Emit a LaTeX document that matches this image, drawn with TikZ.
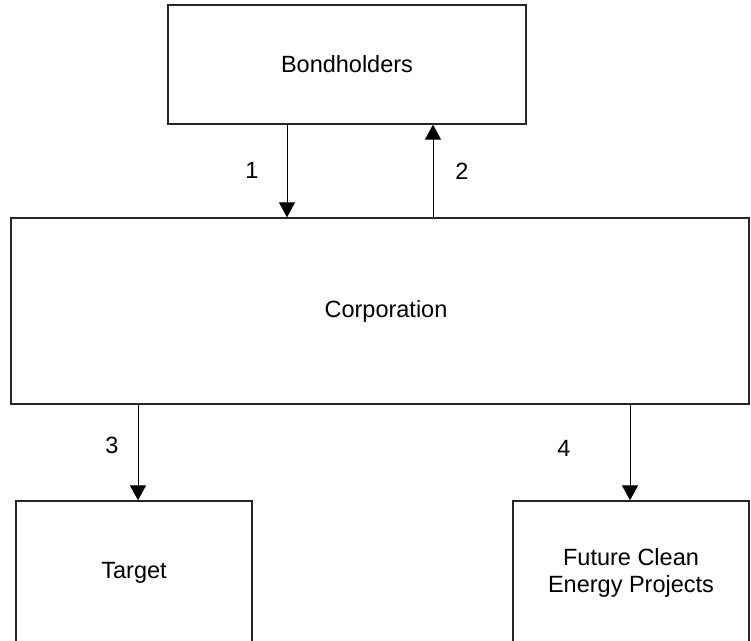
\documentclass[tikz,border=0pt]{standalone}
\usepackage{fontspec}
\setmainfont{Liberation Sans}
\usetikzlibrary{arrows.meta}
\begin{document}
\begin{tikzpicture}[x=1pt,y=-1pt,
  box/.style={draw=black!85,line width=1.3pt,rectangle,inner sep=0pt,align=center,font=\fontsize{23.5}{27}\selectfont},
  arr/.style={line width=1pt,-{Triangle[width=16pt,length=15pt]}},
  lbl/.style={font=\fontsize{23.5}{27}\selectfont}]
\clip (0,0) rectangle (751,640);
\fill[white] (0,0) rectangle (751,640);
\node[box,minimum width=358pt,minimum height=119pt] (bond) at (347,64.5) {Bondholders};
\node[box,minimum width=738pt,minimum height=186pt] (corp) at (380,311) {\hspace*{12pt}Corporation};
\node[box,minimum width=236pt,minimum height=144pt] (target) at (134,573) {Target};
\node[box,minimum width=236pt,minimum height=144pt] (fcep) at (631,573) {Future Clean\\Energy Projects};
\coordinate (x1) at (287,0);
\coordinate (x2) at (433,0);
\coordinate (x3) at (138,0);
\coordinate (x4) at (630,0);
\draw[arr] (bond.south -| x1) -- (corp.north -| x1);
\draw[arr] (corp.north -| x2) -- (bond.south -| x2);
\draw[arr] (corp.south -| x3) -- (target.north -| x3);
\draw[arr] (corp.south -| x4) -- (fcep.north -| x4);
\node[lbl] (l1) at (252,170) {1};
\node[lbl] (l2) at (462,171) {2};
\node[lbl] (l3) at (112,445) {3};
\node[lbl] (l4) at (564,448) {4};
\end{tikzpicture}
\end{document}
